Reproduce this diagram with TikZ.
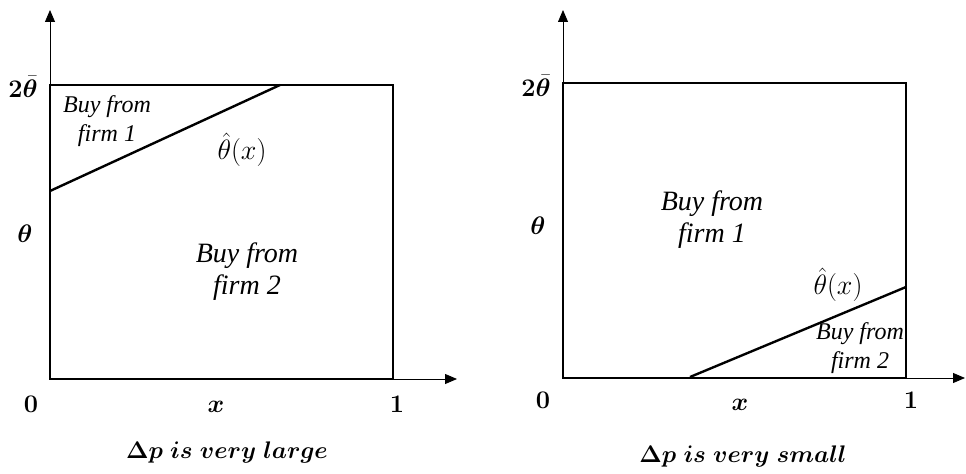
\RequirePackage{fix-cm}
\documentclass[tikz,border=0pt]{standalone}
\usepackage{amsmath,amssymb,bm}
\usepackage{fontspec}
\newfontfamily\regionfont{Liberation Serif}
\usepackage{tikz}
\usetikzlibrary{positioning,arrows.meta}

\tikzset{
  axis/.style={line width=0.6pt,-{Triangle[length=9pt,width=7.5pt]}},
  frame/.style={line width=0.9pt},
  boundary/.style={line width=1.8pt},
  region/.style={align=center,inner sep=0pt,font=\regionfont\fontsize{18}{22}\selectfont\itshape},
  bigregion/.style={region,font=\regionfont\fontsize{21}{24}\selectfont\itshape},
  curvelab/.style={inner sep=0pt,font=\fontsize{21}{24}\selectfont},
  ticklab/.style={inner sep=0pt,font=\fontsize{19}{22}\selectfont},
  caption/.style={inner sep=0pt,font=\fontsize{18}{22}\selectfont}
}

\begin{document}
\begin{tikzpicture}[x=0.75pt,y=-0.75pt]
  \useasboundingbox (0,0) rectangle (966,474);

  % left panel: large price gap
  \coordinate (oL) at (50,379);
  \coordinate (yL) at (50,10);
  \coordinate (xL) at (457,379);
  \coordinate (cL) at (393,85);
  \coordinate (aL) at (50,191);
  \coordinate (bL) at (280,85);
  \draw[axis] (oL) -- (yL);
  \draw[axis] (oL) -- (xL);
  \draw[frame] (oL) rectangle (cL);
  \draw[boundary] (aL) -- (bL);
  \node[ticklab] (topL) at (23,87) {$\bm{2\bar{\theta}}$};
  \node[ticklab] (thL) at (25,234) {$\bm{\theta}$};
  \node[ticklab] (zeroL) at (31,404) {$\bm{0}$};
  \node[ticklab] (xlabL) at (216,407) {$\bm{x}$};
  \node[ticklab] (oneL) at (397,404) {$\bm{1}$};
  \node[region] (firmoneL) at (107,121) {Buy from\\firm 1};
  \node[bigregion] (firmtwoL) at (247,272) {Buy from\\firm 2};
  \node[curvelab] (hatL) at (242,150) {$\hat{\theta}(x)$};
  \node[caption] (capL) at (227,452) {$\bm{\Delta p\ is\ very\ large}$};

  % right panel: small price gap
  \coordinate (oR) at (563,378);
  \coordinate (yR) at (563,10);
  \coordinate (xR) at (965,378);
  \coordinate (cR) at (906,83);
  \coordinate (aR) at (690,377);
  \coordinate (bR) at (906,287);
  \draw[axis] (oR) -- (yR);
  \draw[axis] (oR) -- (xR);
  \draw[frame] (oR) rectangle (cR);
  \draw[boundary] (aR) -- (bR);
  \node[ticklab] (topR) at (536,86) {$\bm{2\bar{\theta}}$};
  \node[ticklab] (thR) at (538,226) {$\bm{\theta}$};
  \node[ticklab] (zeroR) at (543,400) {$\bm{0}$};
  \node[ticklab] (xlabR) at (740,405) {$\bm{x}$};
  \node[ticklab] (oneR) at (911,400) {$\bm{1}$};
  \node[bigregion] (firmoneR) at (712,220) {Buy from\\firm 1};
  \node[curvelab] (hatR) at (838,285) {$\hat{\theta}(x)$};
  \node[region] (firmtwoR) at (860,348) {Buy from\\firm 2};
  \node[caption] (capR) at (743,456) {$\bm{\Delta p\ is\ very\ small}$};
\end{tikzpicture}
\end{document}
